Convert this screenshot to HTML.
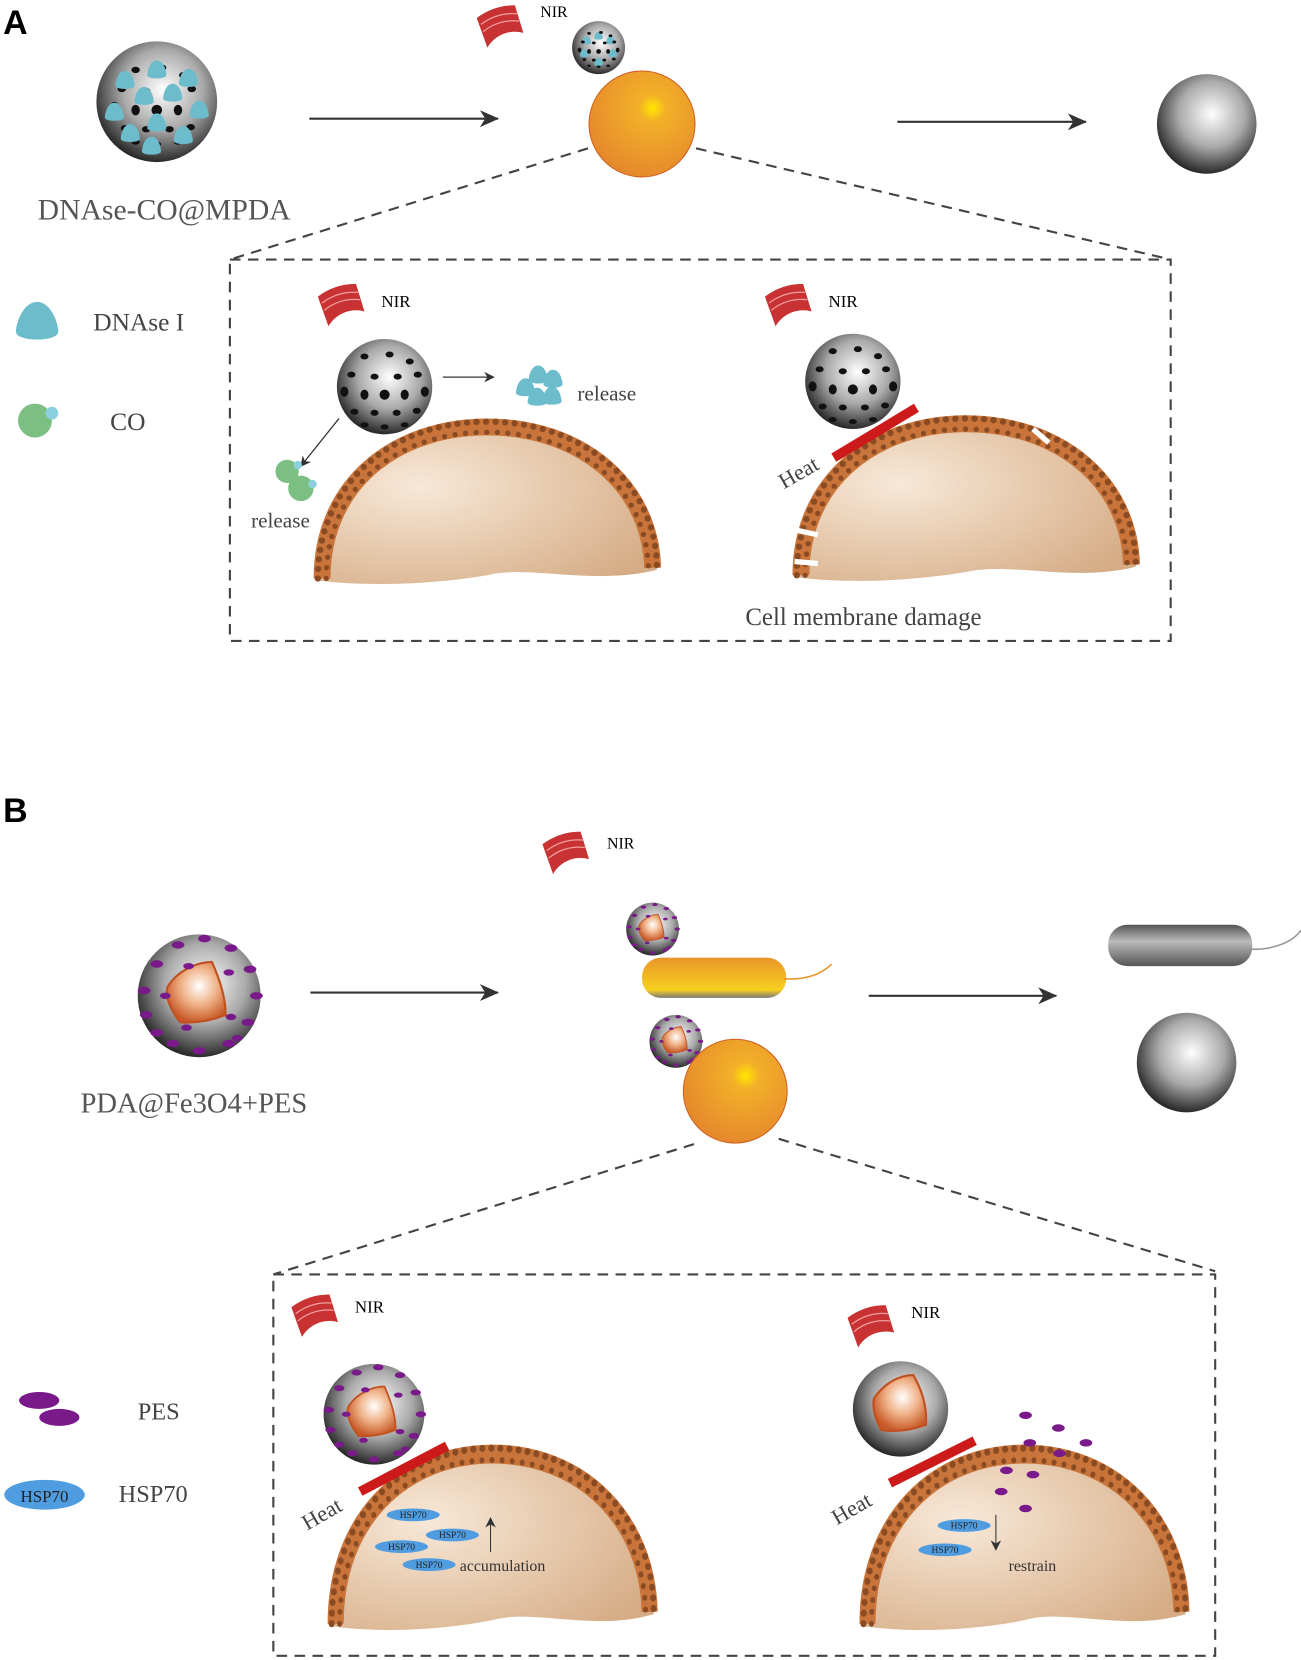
<!DOCTYPE html>
<html><head><meta charset="utf-8"><style>html,body{margin:0;padding:0;background:#fff}svg{display:block}</style></head><body>
<svg width="1301" height="1660" viewBox="0 0 1228 1567" preserveAspectRatio="none" xmlns="http://www.w3.org/2000/svg" font-family="Liberation Serif, serif">
<defs>
<radialGradient id="gs" cx="0.55" cy="0.4" r="0.6"><stop offset="0" stop-color="#fff"/><stop offset="0.55" stop-color="#aaa"/><stop offset="1" stop-color="#2a2a2a"/></radialGradient>
<radialGradient id="go" cx="0.6" cy="0.35" r="0.65"><stop offset="0" stop-color="#ffe600"/><stop offset="0.2" stop-color="#f2b028"/><stop offset="1" stop-color="#e58a2c"/></radialGradient>
<radialGradient id="gc" cx="0.3" cy="0.4" r="0.8"><stop offset="0" stop-color="#f8e8d8"/><stop offset="1" stop-color="#d5ac85"/></radialGradient>
<radialGradient id="gcore" cx="0.55" cy="0.4" r="0.6"><stop offset="0" stop-color="#fff"/><stop offset="0.5" stop-color="#f0b48a"/><stop offset="1" stop-color="#c85a28"/></radialGradient>
<linearGradient id="gr" x1="0" y1="0" x2="0" y2="1"><stop offset="0" stop-color="#e8952a"/><stop offset="0.8" stop-color="#f8d020"/><stop offset="1" stop-color="#777"/></linearGradient>
<linearGradient id="gg" x1="0" y1="0" x2="0" y2="1"><stop offset="0" stop-color="#555"/><stop offset="0.4" stop-color="#bbb"/><stop offset="1" stop-color="#555"/></linearGradient>
<marker id="ar" markerWidth="10" markerHeight="10" refX="9" refY="5" orient="auto" markerUnits="userSpaceOnUse"><path d="M0,0 L10,5 L0,10 L3,5z" fill="#333"/></marker>
<marker id="ar2" markerWidth="18" markerHeight="18" refX="17" refY="9" orient="auto" markerUnits="userSpaceOnUse"><path d="M0,1 L18,9 L0,17 L5,9z" fill="#333"/></marker>
<g id="nir"><path d="M0,12 A60,60 0 0 1 36,0 L44,26 A30,30 0 0 0 10,40 Z" fill="#c83232"/><path d="M4,18 A50,50 0 0 1 38,8 M6,25 A44,44 0 0 1 40,15" stroke="#f0a0a0" stroke-width="1.2" fill="none"/></g>
<g id="dots" fill="#111"><ellipse cx="-20" cy="-30" rx="4" ry="3"/><ellipse cx="5" cy="-32" rx="4" ry="3"/><ellipse cx="25" cy="-25" rx="4" ry="3"/><ellipse cx="-33" cy="-12" rx="4" ry="3"/><ellipse cx="-10" cy="-10" rx="4" ry="3"/><ellipse cx="13" cy="-10" rx="4" ry="3"/><ellipse cx="33" cy="-12" rx="4" ry="3"/><ellipse cx="-40" cy="5" rx="4" ry="5"/><ellipse cx="-20" cy="8" rx="4" ry="5"/><ellipse cx="0" cy="8" rx="5" ry="5"/><ellipse cx="20" cy="8" rx="4" ry="5"/><ellipse cx="40" cy="5" rx="4" ry="5"/><ellipse cx="-30" cy="25" rx="4" ry="3"/><ellipse cx="-10" cy="26" rx="4" ry="3"/><ellipse cx="12" cy="26" rx="4" ry="3"/><ellipse cx="32" cy="24" rx="4" ry="3"/><ellipse cx="-20" cy="38" rx="4" ry="2.5"/><ellipse cx="0" cy="40" rx="4" ry="2.5"/><ellipse cx="20" cy="38" rx="4" ry="2.5"/></g>
<path id="cy" d="M0,-9 C6,-9 9,0 9,5 C9,9 -9,9 -9,5 C-9,0 -6,-9 0,-9z" fill="#6dbccc"/>
<g id="pes"><circle r="1" fill="url(#gs)" transform="scale(58)"/><path d="M-30,-8 C-20,-25 0,-32 12,-32 C22,-10 25,5 25,18 C10,24 -5,26 -18,25 C-28,12 -32,0 -30,-8Z" fill="url(#gcore)" stroke="#c05020" stroke-width="2" stroke-linejoin="round"/><g fill="#7a1a8a"><ellipse cx="-52" cy="-5" rx="6" ry="3.5"/><ellipse cx="-50" cy="18" rx="6" ry="3.5"/><ellipse cx="-40" cy="-30" rx="6" ry="3.5"/><ellipse cx="-20" cy="-48" rx="6" ry="3.5"/><ellipse cx="5" cy="-54" rx="6" ry="3.5"/><ellipse cx="30" cy="-45" rx="6" ry="3.5"/><ellipse cx="48" cy="-25" rx="6" ry="3.5"/><ellipse cx="54" cy="0" rx="6" ry="3.5"/><ellipse cx="46" cy="25" rx="6" ry="3.5"/><ellipse cx="28" cy="45" rx="6" ry="3.5"/><ellipse cx="0" cy="52" rx="6" ry="3.5"/><ellipse cx="-25" cy="45" rx="6" ry="3.5"/><ellipse cx="-40" cy="35" rx="6" ry="3.5"/><ellipse cx="-32" cy="0" rx="5" ry="3"/><ellipse cx="30" cy="20" rx="5" ry="3"/><ellipse cx="-12" cy="30" rx="5" ry="3"/><ellipse cx="28" cy="-22" rx="5" ry="3"/><ellipse cx="-10" cy="-28" rx="5" ry="3"/><ellipse cx="36" cy="40" rx="5" ry="3"/></g></g>
<g id="cell"><path d="M0,150 C0,60 70,0 160,0 C250,0 320,60 320,140 C260,155 200,135 160,145 C100,155 40,155 0,150Z" fill="url(#gc)"/><path d="M4,148 C4,60 72,5 160,5 C248,5 314,60 316,138" fill="none" stroke="#c8743a" stroke-width="16"/><path d="M0,148 C0,58 70,0 160,0 C250,0 320,58 320,138" fill="none" stroke="#8a4a22" stroke-width="6" stroke-dasharray="0 9" stroke-linecap="round"/><path d="M8,148 C8,62 74,10 160,10 C246,10 310,62 312,138" fill="none" stroke="#8a4a22" stroke-width="5" stroke-dasharray="0 10" stroke-linecap="round"/></g>
</defs>
<g font-family="Liberation Sans, sans-serif" font-weight="bold" font-size="32"><text x="3" y="32">A</text><text x="3" y="776">B</text></g>
<!-- Panel A -->
<circle cx="148" cy="96" r="57" fill="url(#gs)"/>
<g transform="translate(148,96)"><use href="#dots"/><use href="#cy" x="-30" y="-20"/><use href="#cy" x="0" y="-30"/><use href="#cy" x="30" y="-22"/><use href="#cy" x="-40" y="10"/><use href="#cy" x="-12" y="-5"/><use href="#cy" x="15" y="-8"/><use href="#cy" x="40" y="8"/><use href="#cy" x="-25" y="30"/><use href="#cy" x="0" y="20"/><use href="#cy" x="25" y="32"/><use href="#cy" x="-5" y="42"/></g>
<text x="155" y="207" font-size="28" fill="#555" text-anchor="middle">DNAse-CO@MPDA</text>
<line x1="292" y1="112" x2="470" y2="112" stroke="#333" stroke-width="2" marker-end="url(#ar2)"/>
<use href="#nir" x="450" y="5"/><text x="510" y="16" font-size="15">NIR</text>
<circle cx="565" cy="45" r="25" fill="url(#gs)"/><g transform="translate(565,45) scale(0.45)"><use href="#cy" x="-25" y="-15"/><use href="#cy" x="0" y="-25"/><use href="#cy" x="25" y="-15"/><use href="#cy" x="-30" y="12"/><use href="#cy" x="30" y="12"/><use href="#cy" x="0" y="30"/><use href="#dots"/></g>
<circle cx="606" cy="117" r="50" fill="url(#go)" stroke="#d06020"/>
<line x1="847" y1="115" x2="1025" y2="115" stroke="#333" stroke-width="2" marker-end="url(#ar2)"/>
<circle cx="1139" cy="117" r="47" fill="url(#gs)"/>
<g stroke="#444" stroke-width="2" stroke-dasharray="10 7" fill="none"><path d="M555,140 L217,245 M657,140 L1105,245"/><rect x="217" y="245" width="888" height="360"/></g>
<path d="M35,285 C48,285 55,305 55,313 C55,323 15,323 15,313 C15,305 22,285 35,285z" fill="#6dbccc"/>
<text x="88" y="312" font-size="24" fill="#444">DNAse I</text>
<circle cx="33" cy="397" r="16" fill="#7cbf82"/><circle cx="49" cy="390" r="6" fill="#8cd0e0"/>
<text x="104" y="406" font-size="24" fill="#444">CO</text>
<use href="#nir" x="300" y="268"/><text x="360" y="290" font-size="16">NIR</text>
<g transform="translate(300,398)"><use href="#cell"/></g>
<circle cx="363" cy="365" r="45" fill="url(#gs)"/><g transform="translate(363,365) scale(0.95)"><use href="#dots"/></g>
<line x1="418" y1="356" x2="466" y2="356" stroke="#333" stroke-width="1.2" marker-end="url(#ar)"/>
<g><use href="#cy" x="496" y="366"/><use href="#cy" x="508" y="354"/><use href="#cy" x="522" y="358"/><use href="#cy" x="507" y="375"/><use href="#cy" x="521" y="374"/></g>
<text x="545" y="378" font-size="20" fill="#444">release</text>
<line x1="320" y1="395" x2="284" y2="440" stroke="#333" stroke-width="1.2" marker-end="url(#ar)"/>
<circle cx="271" cy="445" r="11" fill="#7cbf82"/><circle cx="284" cy="461" r="12" fill="#7cbf82"/><circle cx="281" cy="439" r="4" fill="#8cd0e0"/><circle cx="295" cy="457" r="4" fill="#8cd0e0"/>
<text x="237" y="498" font-size="20" fill="#444">release</text>
<use href="#nir" x="722" y="268"/><text x="782" y="290" font-size="16">NIR</text>
<g transform="translate(752,395)"><use href="#cell"/></g>
<g stroke="#fff" stroke-width="5"><line x1="975" y1="405" x2="990" y2="418"/><line x1="750" y1="500" x2="772" y2="505"/><line x1="750" y1="530" x2="772" y2="532"/></g>
<circle cx="805" cy="360" r="45" fill="url(#gs)"/><g transform="translate(805,360) scale(0.95)"><use href="#dots"/></g>
<line x1="787" y1="432" x2="865" y2="385" stroke="#cc1a1a" stroke-width="9"/>
<text x="0" y="0" font-size="21" fill="#444" transform="translate(740,462) rotate(-30)">Heat</text>
<text x="815" y="590" font-size="23.5" fill="#444" text-anchor="middle">Cell membrane damage</text>
<!-- Panel B -->
<use href="#pes" x="188" y="940"/>
<text x="183" y="1050" font-size="27" fill="#555" text-anchor="middle">PDA@Fe3O4+PES</text>
<line x1="293" y1="937" x2="470" y2="937" stroke="#333" stroke-width="2" marker-end="url(#ar2)"/>
<use href="#nir" x="512" y="785"/><text x="573" y="801" font-size="15">NIR</text>
<g transform="translate(616,877) scale(0.43)"><use href="#pes"/></g>
<rect x="606" y="904" width="136" height="38" rx="18" fill="url(#gr)"/>
<path d="M740,924 C760,925 775,920 785,910" stroke="#e8952a" stroke-width="1.5" fill="none"/>
<g transform="translate(638,983) scale(0.43)"><use href="#pes"/></g>
<circle cx="694" cy="1030" r="49" fill="url(#go)" stroke="#d06020"/>
<line x1="820" y1="940" x2="997" y2="940" stroke="#333" stroke-width="2" marker-end="url(#ar2)"/>
<rect x="1046" y="873" width="136" height="39" rx="18" fill="url(#gg)"/>
<path d="M1180,896 C1200,897 1220,890 1228,878" stroke="#999" stroke-width="1.5" fill="none"/>
<circle cx="1120" cy="1003" r="47" fill="url(#gs)"/>
<g stroke="#444" stroke-width="2" stroke-dasharray="10 7" fill="none"><path d="M655,1080 L258,1203 M735,1075 L1147,1200"/><rect x="258" y="1203" width="889" height="360"/></g>
<ellipse cx="37" cy="1322" rx="19" ry="8" fill="#7a1a8a"/><ellipse cx="56" cy="1338" rx="19" ry="8" fill="#7a1a8a"/>
<text x="130" y="1340" font-size="23" fill="#444">PES</text>
<ellipse cx="42" cy="1411" rx="38" ry="14" fill="#4f9de0"/><text x="42" y="1418" font-size="16" text-anchor="middle" fill="#222">HSP70</text>
<text x="112" y="1418" font-size="23" fill="#444">HSP70</text>
<use href="#nir" x="275" y="1222"/><text x="335" y="1239" font-size="16">NIR</text>
<g transform="translate(313,1367) scale(0.95,1.12)"><use href="#cell"/></g>
<use href="#pes" x="353" y="1335" transform="translate(353,1335) scale(0.82) translate(-353,-1335)"/>
<line x1="340" y1="1408" x2="422" y2="1365" stroke="#cc1a1a" stroke-width="9"/>
<text x="0" y="0" font-size="21" fill="#444" transform="translate(290,1445) rotate(-30)">Heat</text>
<g font-size="9" text-anchor="middle" fill="#222"><ellipse cx="390" cy="1430" rx="25" ry="6" fill="#4f9de0"/><text x="390" y="1433">HSP70</text><ellipse cx="427" cy="1449" rx="25" ry="6" fill="#4f9de0"/><text x="427" y="1452">HSP70</text><ellipse cx="379" cy="1460" rx="25" ry="6" fill="#4f9de0"/><text x="379" y="1463">HSP70</text><ellipse cx="405" cy="1477" rx="25" ry="6" fill="#4f9de0"/><text x="405" y="1480">HSP70</text></g>
<line x1="463" y1="1465" x2="463" y2="1433" stroke="#333" stroke-width="1" marker-end="url(#ar)"/>
<text x="434" y="1483" font-size="15" fill="#333">accumulation</text>
<use href="#nir" x="800" y="1232"/><text x="860" y="1244" font-size="16">NIR</text>
<g transform="translate(815,1367) scale(0.95,1.12)"><use href="#cell"/></g>
<circle cx="850" cy="1330" r="45" fill="url(#gs)"/><path d="M825,1320 C835,1305 850,1298 862,1298 C872,1315 875,1330 874,1345 C860,1350 845,1352 832,1350 C826,1340 823,1328 825,1320Z" fill="url(#gcore)" stroke="#c05020" stroke-width="2"/>
<line x1="840" y1="1400" x2="920" y2="1360" stroke="#cc1a1a" stroke-width="9"/>
<text x="0" y="0" font-size="21" fill="#444" transform="translate(790,1440) rotate(-30)">Heat</text>
<g fill="#7a1a8a"><ellipse cx="968" cy="1336" rx="6" ry="3.5"/><ellipse cx="999" cy="1348" rx="6" ry="3.5"/><ellipse cx="972" cy="1362" rx="6" ry="3.5"/><ellipse cx="1025" cy="1362" rx="6" ry="3.5"/><ellipse cx="950" cy="1388" rx="6" ry="3.5"/><ellipse cx="975" cy="1392" rx="6" ry="3.5"/><ellipse cx="1000" cy="1372" rx="6" ry="3.5"/><ellipse cx="945" cy="1408" rx="6" ry="3.5"/><ellipse cx="968" cy="1424" rx="6" ry="3.5"/></g>
<g font-size="9" text-anchor="middle" fill="#222"><ellipse cx="910" cy="1440" rx="25" ry="6" fill="#4f9de0"/><text x="910" y="1443">HSP70</text><ellipse cx="892" cy="1463" rx="25" ry="6" fill="#4f9de0"/><text x="892" y="1466">HSP70</text></g>
<line x1="940" y1="1430" x2="940" y2="1463" stroke="#333" stroke-width="1" marker-end="url(#ar)"/>
<text x="952" y="1483" font-size="15" fill="#333">restrain</text>
</svg>
</body></html>
